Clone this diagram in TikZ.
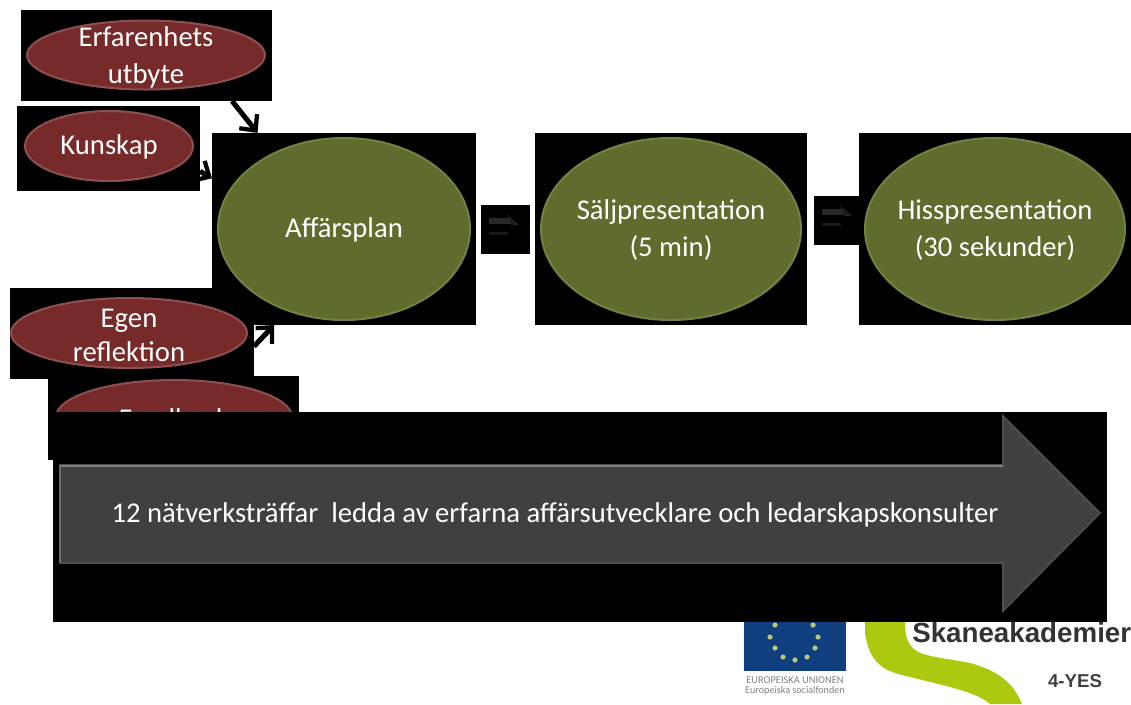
\documentclass[tikz,border=0pt]{standalone}
\usepackage{fontspec}
\setmainfont{Carlito}
\newfontfamily\logofont{Liberation Sans}
\usetikzlibrary{shapes.geometric,arrows.meta,calc}
\definecolor{maroonfill}{HTML}{772A2A}
\definecolor{maroonedge}{HTML}{8E4F4F}
\definecolor{olivefill}{HTML}{5E6C2E}
\definecolor{oliveedge}{HTML}{728240}
\definecolor{arrowgrey}{HTML}{404040}
\definecolor{arrowedge}{HTML}{505050}
\definecolor{eublue}{HTML}{0F3F7F}
\definecolor{eustar}{HTML}{B8C878}
\definecolor{logogreen}{HTML}{AEC70F}
\tikzset{
  blackbox/.style={fill=black,draw=none,inner sep=0pt,outer sep=0pt,minimum width=#1},
  redell/.style={ellipse,fill=maroonfill,draw=maroonedge,line width=1.5pt,inner sep=0pt},
  greenell/.style={ellipse,fill=olivefill,draw=oliveedge,line width=1.5pt,inner sep=0pt},
  lbl/.style={text=white,align=center,inner sep=0pt,font=\fontsize{21.5}{27.5}\selectfont},
  link/.style={draw=black,line width=3.8pt,-{Straight Barb[length=9pt,width=17pt,line width=3.2pt]}},
}
\newcommand{\bx}[5]{\node[blackbox=#3*0.75pt,minimum height=#4*0.75pt] (#5) at ({#1+#3/2},{#2+#4/2}) {};}
\begin{document}
\begin{tikzpicture}[x=0.75pt,y=-0.75pt]
\useasboundingbox (0,0) rectangle (1131,704);
% logos
\fill[eublue] (744,622) rectangle (846,671);
\foreach \sx/\sy in {775/625,813/625,770/637,818/637,775/648,815/648,783/657,795/660,807/657} \fill[eustar] (\sx,\sy) circle (2.6);
\node[text=gray,font=\fontsize{7.8}{8}\selectfont,inner sep=0pt] (eua) at (795,680) {EUROPEISKA UNIONEN};
\node[text=gray,font=\fontsize{7.6}{8}\selectfont,inner sep=0pt] (eub) at (795,691) {Europeiska socialfonden};
\fill[logogreen] (865,622) -- (865,633) .. controls (868,655) and (877,667) .. (895,673) .. controls (930,683) and (975,690) .. (990,704) -- (1022,704) .. controls (1012,680) and (995,670) .. (970,663) .. controls (945,658) and (925,657) .. (915,650) .. controls (906,643) and (905,632) .. (905,622) -- cycle;
\node[anchor=west,inner sep=0pt,font=\logofont\bfseries\fontsize{20.8}{24}\selectfont,text=black!80] (ska) at (912,633) {Skaneakademier};
\node[inner sep=0pt,font=\logofont\bfseries\fontsize{14}{16}\selectfont,text=black!75] (yes) at (1075,681) {4-YES};
% boxes
\bx{21}{10}{251}{91}{erfbox}
\bx{17}{106}{183}{85}{kunbox}
\bx{212}{133}{264}{192}{planbox}
\bx{10}{288}{244}{91}{egenbox}
\bx{535}{133}{272}{192}{saljbox}
\bx{859}{133}{272}{192}{hissbox}
\bx{481}{205}{49}{49}{pilA}
\bx{814}{196}{47}{49}{pilB}
% connectors
\draw[link] (erfbox.-28.6) -- (planbox.132.5);
\draw[link] (kunbox.-14.4) -- (planbox.159.6);
\draw[link] (egenbox.-6.3) -- (planbox.234.3);
% ellipses
\node[redell,minimum width=238*0.75pt,minimum height=69*0.75pt] (erf) at (146,55) {};
\node[redell,minimum width=168*0.75pt,minimum height=70*0.75pt] (kun) at (109,146) {};
\node[redell,minimum width=236*0.75pt,minimum height=70*0.75pt] (egen) at (129,333) {};
\node[greenell,minimum width=252*0.75pt,minimum height=182*0.75pt] (plan) at (344,229) {};
\node[greenell,minimum width=260*0.75pt,minimum height=182*0.75pt] (salj) at (671,229) {};
\node[greenell,minimum width=260*0.75pt,minimum height=182*0.75pt] (hiss) at (995,229) {};
\node[lbl] (erft) at (146,57.5) {Erfarenhets\\utbyte};
\node[lbl] (kunt) at (109,147) {Kunskap};
\node[lbl,font=\fontsize{21.5}{25.5}\selectfont] (egent) at (129,335) {Egen\\reflektion};
\node[lbl] (plant) at (344,229.5) {Affärsplan};
\node[lbl] (saljt) at (671,230) {Säljpresentation\\(5 min)};
\node[lbl] (hisst) at (995,230) {Hisspresentation\\(30 sekunder)};
% faint arrows in the small boxes
\foreach \ox/\oy in {481/205,814/196}{
  \fill[black!84] (\ox+8,\oy+13) rectangle (\ox+29,\oy+19);
  \fill[black!90] (\ox+8,\oy+27) rectangle (\ox+27,\oy+30);
  \fill[black!88] (\ox+26,\oy+9) -- (\ox+38,\oy+20) -- (\ox+30,\oy+20) -- cycle;
}
% feedback, hidden by the big box
\bx{48}{376}{251}{84}{feedbox}
\node[redell,minimum width=236*0.75pt,minimum height=74*0.75pt] (feed) at (174,417) {};
\node[lbl] (feedt) at (174,419) {Feedback};
\bx{53}{412}{1054}{210}{bigbox}
\draw[fill=arrowgrey,draw=arrowedge,line width=1.2pt,line join=miter] (60,465) -- (1003,465) -- (1003,416) -- (1100,513) -- (1003,611) -- (1003,563) -- (60,563) -- cycle;
\draw[draw=black!50,line width=2pt] (60,466) -- (1003,466);
\draw[draw=black!58,line width=1.5pt] (60,466) -- (60,563);
\node[lbl] (nat) at (555,515) {12 nätverksträffar\ \ ledda av erfarna affärsutvecklare och ledarskapskonsulter};
\end{tikzpicture}
\end{document}
